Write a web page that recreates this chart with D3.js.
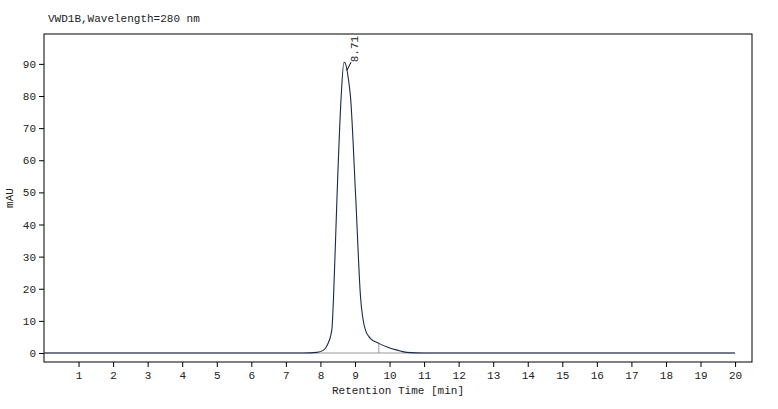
<!DOCTYPE html><html><head><meta charset="utf-8">
<script src="https://cdn.jsdelivr.net/npm/d3@7"></script>
<style>body{margin:0;background:#fff}text{font-family:"Liberation Mono","DejaVu Sans Mono",monospace;font-size:11px;fill:#222}</style>
</head><body><svg id="c" width="778" height="409"></svg>
<script>
const times=[0,7.5,7.9,8.09,8.2,8.33,8.38,8.48,8.6,8.68,8.72,8.8,8.87,9.02,9.16,9.3,9.45,9.69,9.95,10.22,10.5,11,20];
const values=[0,0,0.2,0.9,2.5,7.2,17.5,48.7,79.8,90.5,90.2,86,79.8,48.7,17.5,7.2,4.5,3.0,1.8,0.9,0.2,0,0];
const xTicks=d3.range(1,21);
const yTicks=d3.range(0,100,10);
const peakLabel="8.71", peakTime=8.71;
const svg=d3.select("#c");
const x=d3.scaleLinear().domain([0,20.49]).range([44,752]);
const y=d3.scaleLinear().domain([-2.8,99.3]).range([362,34]);
svg.append("rect").attr("x",44).attr("y",34).attr("width",708).attr("height",328).attr("fill","none").attr("stroke","#000");
svg.append("g").attr("transform","translate(0,362)").call(d3.axisBottom(x).tickValues(xTicks).tickSize(5).tickSizeOuter(0)).call(g=>{g.select(".domain").remove();g.selectAll("text").attr("dy","0.8em")});
svg.append("g").attr("transform","translate(44,0)").call(d3.axisLeft(y).tickValues(yTicks).tickSize(5).tickSizeOuter(0)).call(g=>g.select(".domain").remove());
svg.append("line").attr("x1",x(0)).attr("x2",x(20)).attr("y1",y(0)).attr("y2",y(0)).attr("stroke","#999");
svg.append("line").attr("x1",x(9.69)).attr("x2",x(9.69)).attr("y1",y(0)).attr("y2",y(3)).attr("stroke","#999");
svg.append("path").datum(times.map((t,i)=>[t,values[i]])).attr("fill","none").attr("stroke","#1a2a4a").attr("stroke-width",1.1)
 .attr("d",d3.line().x(d=>x(d[0])).y(d=>y(d[1])).curve(d3.curveMonotoneX));
svg.append("line").attr("x1",x(peakTime)+6).attr("y1",y(90.5)).attr("x2",x(peakTime)+2).attr("y2",y(88)).attr("stroke","#000");
svg.append("text").attr("transform",`translate(${x(peakTime)+13},${y(90.5)}) rotate(-90)`).text(peakLabel);
svg.append("text").attr("x",48).attr("y",22).text("VWD1B,Wavelength=280 nm");
svg.append("text").attr("x",398).attr("y",394).attr("text-anchor","middle").text("Retention Time [min]");
svg.append("text").attr("transform","translate(13,198) rotate(-90)").attr("text-anchor","middle").text("mAU");
</script></body></html>
